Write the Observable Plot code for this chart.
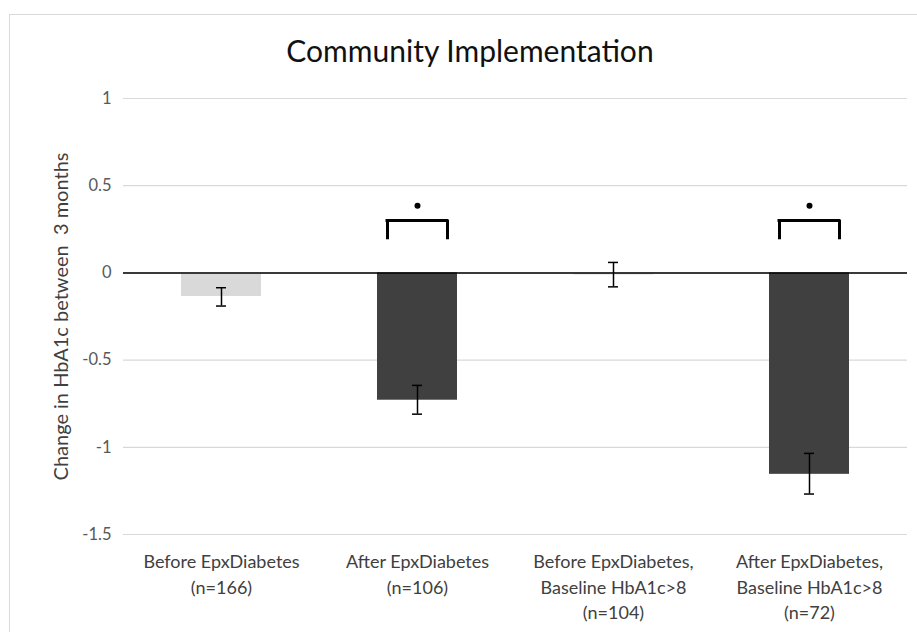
<!DOCTYPE html>
<html>
<head>
<meta charset="utf-8">
<script src="https://cdn.jsdelivr.net/npm/d3@7"></script>
<script src="https://cdn.jsdelivr.net/npm/@observablehq/plot@0.6"></script>
<style>
  html, body { margin: 0; padding: 0; background: #fff; }
  body { width: 917px; height: 632px; position: relative; overflow: hidden; font-family: Lato, "Open Sans", sans-serif; }
  #frame { position: absolute; left: 9px; top: 14px; width: 920px; height: 630px; border: 1px solid #d9d9d9; box-sizing: border-box; }
  #title { position: absolute; left: 0; top: 34px; width: 940px; text-align: center; font-size: 30px; line-height: 32px; color: #111; }
  #chart { position: absolute; left: 0; top: 80px; }
</style>
</head>
<body>
<div id="frame"></div>
<div id="title">Community Implementation</div>
<div id="chart"></div>
<script>
// ---- data ----
const categories = [
  "Before EpxDiabetes\n(n=166)",
  "After EpxDiabetes\n(n=106)",
  "Before EpxDiabetes,\nBaseline HbA1c>8\n(n=104)",
  "After EpxDiabetes,\nBaseline HbA1c>8\n(n=72)"
];
const phases = ["Before", "After", "Before", "After"];
const values = [-0.135, -0.73, -0.012, -1.155];
const errLow = [-0.19, -0.81, -0.08, -1.268];
const errHigh = [-0.085, -0.645, 0.06, -1.035];
const significant = [categories[1], categories[3]];
const bracketTop = 0.3;
const bracketLeg = 0.19;
const starLevel = 0.385;
const yTicks = [-1.5, -1, -0.5, 0, 0.5, 1];
const yTickLabels = ["-1.5", "-1", "-0.5", "0", "0.5", "1"];

const rows = categories.map((c, i) => ({cat: c, phase: phases[i], value: values[i], lo: errLow[i], hi: errHigh[i]}));
const sig = significant.map(c => ({cat: c}));

const chart = Plot.plot({
  width: 917,
  height: 552,
  marginTop: 18,
  marginBottom: 98,
  marginLeft: 123,
  marginRight: 10,
  style: {fontFamily: "Lato, 'Open Sans', sans-serif", background: "transparent"},
  x: {domain: categories, paddingInner: 0.59, paddingOuter: 0.295, label: null},
  y: {domain: [-1.5, 1], label: null},
  color: {domain: ["Before", "After"], range: ["#d9d9d9", "#404040"]},
  marks: [
    Plot.gridY(yTicks, {stroke: "#d9d9d9", strokeOpacity: 1, strokeWidth: 1.2}),
    Plot.barY(rows, {x: "cat", y: "value", fill: "phase"}),
    Plot.ruleY([0], {stroke: "#000", strokeWidth: 1.5}),
    Plot.ruleX(rows, {x: "cat", y1: "lo", y2: "hi", stroke: "#000", strokeWidth: 1.5}),
    Plot.tickY(rows, {x: "cat", y: "lo", stroke: "#000", strokeWidth: 1.5, inset: 35}),
    Plot.tickY(rows, {x: "cat", y: "hi", stroke: "#000", strokeWidth: 1.5, inset: 35}),
    Plot.tickY(sig, {x: "cat", y: () => bracketTop, stroke: "#000", strokeWidth: 3, inset: 8.5}),
    Plot.ruleX(sig, {x: "cat", y1: () => bracketLeg, y2: () => bracketTop, dx: -30, stroke: "#000", strokeWidth: 3}),
    Plot.ruleX(sig, {x: "cat", y1: () => bracketLeg, y2: () => bracketTop, dx: 30, stroke: "#000", strokeWidth: 3}),
    Plot.dot(sig, {x: "cat", y: () => starLevel, r: 3, fill: "#000"}),
    Plot.axisY(yTicks, {tickSize: 0, tickPadding: 12, tickFormat: (d) => yTickLabels[yTicks.indexOf(d)], fontSize: 16.5, color: "#595959",
      label: "Change in HbA1c between  3 months", labelAnchor: "center", labelArrow: "none", labelOffset: 70}),
    Plot.axisX({tickSize: 0, tickPadding: 16, fontSize: 18, lineHeight: 1.4, color: "#404040"})
  ]
});
document.getElementById("chart").appendChild(chart);
// y-axis label styling
chart.querySelectorAll("[aria-label='y-axis label'] text").forEach(t => { t.setAttribute("font-size", "20"); t.setAttribute("fill", "#404040"); t.setAttribute("xml:space", "preserve"); t.style.whiteSpace = "pre"; });
</script>
</body>
</html>
